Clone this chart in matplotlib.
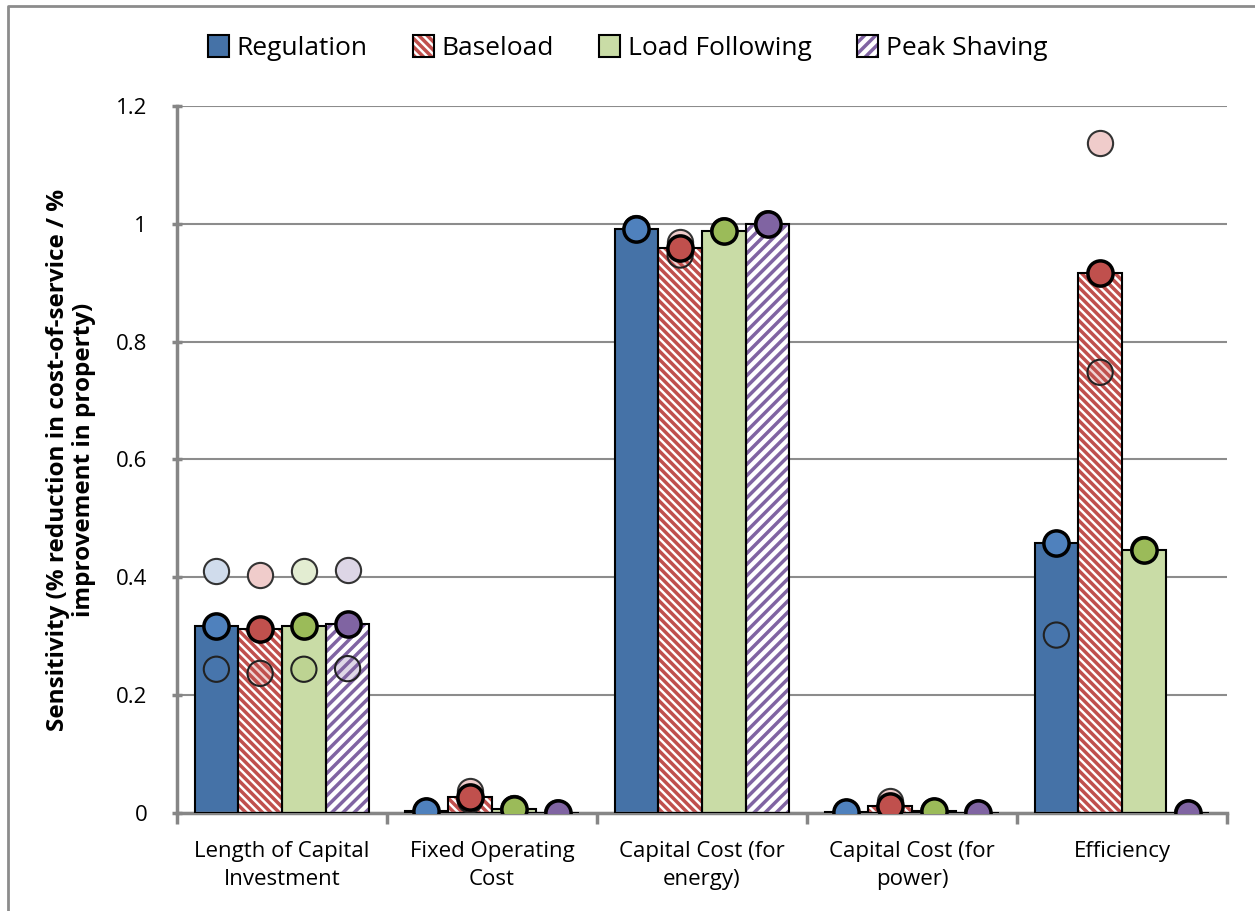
import numpy as np
import matplotlib.pyplot as plt
from matplotlib.lines import Line2D
from matplotlib.patches import Patch

plt.rcParams['font.family'] = ['Open Sans', 'DejaVu Sans']

categories = ['Length of Capital\nInvestment', 'Fixed Operating\nCost',
              'Capital Cost (for\nenergy)', 'Capital Cost (for\npower)', 'Efficiency']
series = ['Regulation', 'Baseload', 'Load Following', 'Peak Shaving']

# bar values
regulation = [0.318, 0.003, 0.992, 0.001, 0.458]
baseload = [0.312, 0.027, 0.959, 0.012, 0.917]
load_following = [0.318, 0.007, 0.988, 0.003, 0.447]
peak_shaving = [0.320, 0.0, 1.0, 0.0, 0.0]

# low / high sensitivity points
regulation_low = [0.244, 0.003, 0.992, 0.001, 0.302]
baseload_low = [0.237, 0.022, 0.947, 0.010, 0.748]
load_following_low = [0.244, 0.007, 0.988, 0.003, 0.447]
peak_shaving_low = [0.245, 0.0, 1.0, 0.0, 0.0]

regulation_high = [0.411, 0.003, 0.992, 0.001, 0.458]
baseload_high = [0.404, 0.037, 0.970, 0.020, 1.138]
load_following_high = [0.411, 0.008, 0.988, 0.003, 0.447]
peak_shaving_high = [0.413, 0.0, 1.0, 0.0, 0.0]

bars = [regulation, baseload, load_following, peak_shaving]
lows = [regulation_low, baseload_low, load_following_low, peak_shaving_low]
highs = [regulation_high, baseload_high, load_following_high, peak_shaving_high]

marker_colors = ['#4f81bd', '#c0504d', '#9bbb59', '#8064a2']
light_colors = ['#d0dcec', '#f0cccb', '#e3edd2', '#ddd6e6']
# (face, hatch colour, hatch)
bar_styles = [('#4572a7', '#4572a7', None),
              ('white', '#c0504d', '\\\\\\\\'),
              ('#c9dca6', '#c9dca6', None),
              ('white', '#8064a2', '///')]

fig = plt.figure(figsize=(12.55, 9.11), dpi=100)
ax = fig.add_axes([177 / 1255, 1 - 813 / 911, 1050 / 1255, 707 / 911])

x = np.arange(len(categories))
w = 0.2083
plt.rcParams['hatch.linewidth'] = 2.5

for i, vals in enumerate(bars):
    pos = x + (i - 1.5) * w
    face, hc, hatch = bar_styles[i]
    ax.bar(pos, vals, w, color=face, edgecolor=hc, hatch=hatch, linewidth=0, zorder=2)
    ax.bar(pos, vals, w, color='none', edgecolor='black', linewidth=1.5, zorder=3)

for i in range(4):
    pos = x + (i - 1.5) * w
    ax.scatter(pos, highs[i], s=330, color=light_colors[i], edgecolor='#333333',
               linewidth=1.5, zorder=4)
    ax.scatter(pos, lows[i], s=330, color=marker_colors[i], alpha=0.25, edgecolor='none',
               zorder=4)
    ax.scatter(pos, lows[i], s=330, color='none', edgecolor='#222222', linewidth=1.5, zorder=4)
    ax.scatter(pos, bars[i], s=330, color=marker_colors[i], edgecolor='black',
               linewidth=2.5, zorder=5)

ax.set_xlim(-0.5, 4.5)
ax.set_ylim(0, 1.2)
ax.set_yticks([0, 0.2, 0.4, 0.6, 0.8, 1.0, 1.2])
ax.set_yticklabels(['0', '0.2', '0.4', '0.6', '0.8', '1', '1.2'], fontsize=16)
ax.set_xticks(x)
ax.set_xticklabels(categories, fontsize=16, linespacing=1.45, va='top')
ax.tick_params(axis='x', length=0, pad=20)
ax.set_xticks(np.arange(-0.5, 5, 1), minor=True)
ax.tick_params(axis='x', which='minor', length=8, width=2.5, color='#868686')
ax.tick_params(axis='y', length=7, width=2.5, color='#868686', direction='inout', pad=18)
ax.grid(axis='y', color='#8c8c8c', linewidth=1.5, zorder=0)
ax.set_axisbelow(True)
for s in ['top', 'right']:
    ax.spines[s].set_visible(False)
for s in ['left', 'bottom']:
    ax.spines[s].set_color('#868686')
    ax.spines[s].set_linewidth(2.5)

ax.set_ylabel('Sensitivity (% reduction in cost-of-service / %\nimprovement in property)',
              fontsize=17.5, fontweight='bold', labelpad=14, linespacing=1.15)

handles = []
for i in range(4):
    face, hc, hatch = bar_styles[i]
    handles.append((Patch(facecolor=face, edgecolor=hc, hatch=hatch, linewidth=0),
                    Patch(facecolor='none', edgecolor='black', linewidth=1.5)))
leg = fig.legend(handles, series, loc='center', bbox_to_anchor=(0.5, 1 - 48 / 911), ncol=4,
                 frameon=False, fontsize=19, handlelength=0.8, handleheight=0.9,
                 handletextpad=0.3, columnspacing=1.7)

# chart border
fig.add_artist(Line2D([8 / 1255, 8 / 1255, 1], [0, 1 - 6 / 911, 1 - 6 / 911],
                      color='#8c8c8c', linewidth=2, transform=fig.transFigure))

fig.savefig('out.png', dpi=100)
